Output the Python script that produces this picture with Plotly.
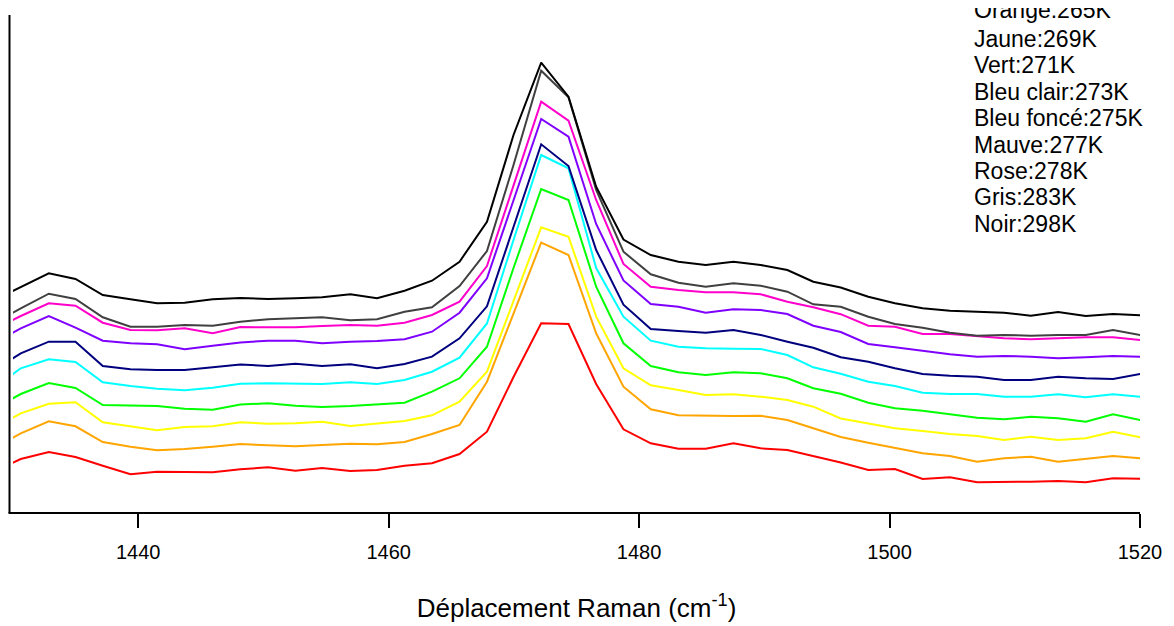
import plotly.graph_objects as go

# Raman shift (cm-1) of each sampled point
raman_shift = [1428.44, 1430.62, 1432.86, 1434.99, 1437.17, 1439.38, 1441.51, 1443.71, 1445.95, 1448.16,
               1450.37, 1452.55, 1454.68, 1456.94, 1459.07, 1461.27, 1463.46, 1465.66, 1467.85, 1469.97,
               1472.18, 1474.36, 1476.57, 1478.75, 1480.93, 1483.14, 1485.32, 1487.53, 1489.71, 1491.84,
               1493.91, 1496.10, 1498.30, 1500.43, 1502.64, 1504.82, 1507.00, 1509.15, 1511.28, 1513.46,
               1515.67, 1517.85, 1520.03]

# Stacked intensities (arbitrary units), one list per temperature
rouge = [41, 54, 61, 56, 47.3, 38.7, 41.3, 40.7, 40.7, 43.8, 45.7, 42.3, 45, 42, 43, 47.3, 49.7, 59, 81.3, 136,
         189.7, 189, 129, 83.7, 69.7, 64.3, 64.3, 69.7, 64.7, 63, 57, 50.5, 43, 44, 34, 35.7, 30.7, 30.7, 31.3, 32,
         30.7, 34.7, 34.3]
orange = [64.3, 79.7, 91.7, 86.7, 71, 66.3, 62.7, 64, 66.3, 69, 67.7, 66.7, 68, 69.3, 68.7, 71, 79, 88, 131.3, 200,
          270.5, 258, 179.7, 126.3, 103.7, 97.7, 97.3, 97, 97.3, 93, 84.7, 76, 70.3, 65.3, 59.7, 57, 51.3, 54.7, 56.3,
          51.3, 54, 57, 54.7]
jaune = [84.3, 99.7, 109.3, 110.7, 90.7, 86.3, 82.7, 86, 86.7, 90.8, 89.3, 89.7, 91.3, 87, 89.7, 92, 97.7, 111.3,
         141.3, 213, 285.7, 276.3, 196.3, 144.7, 127.7, 123, 118, 118.7, 116.3, 113, 106.3, 94.5, 89.7, 84.7, 82, 79,
         77, 73, 76.3, 73, 74.7, 81.3, 75.7]
vert = [104, 119, 130, 125, 108, 107.3, 107, 104.3, 103.3, 108.5, 109.7, 107.3, 106, 107, 108.7, 110.3, 121.3, 134.7,
        166.3, 245, 324, 313, 226.3, 169.7, 147, 140.7, 138, 140.7, 139.7, 134.7, 124.7, 119.2, 110.3, 104.7, 102.3,
        99, 95.3, 93.7, 96.3, 94.7, 91.3, 98.7, 93]
bleu_clair = [124.7, 144.7, 153.7, 151, 130.7, 127, 124.3, 122.7, 125.3, 129.2, 129.7, 129.7, 129, 130.7, 129, 133,
              141.3, 155.3, 189.5, 273, 358, 344.7, 245, 196.3, 172.3, 166.3, 164.7, 164.3, 164, 158, 145.7, 139.3,
              131.3, 127, 120.3, 119, 119, 116.3, 116.3, 118.7, 115.7, 118.7, 116.3]
bleu_fonce = [142.2, 159.7, 171.3, 171.3, 147, 143.7, 143, 143, 145.7, 148.5, 147, 149.3, 147, 148.7, 144.7, 149,
              156.3, 174.7, 206.7, 286.3, 368.7, 347, 263, 208.3, 184, 182, 180.3, 183, 178, 171.3, 165.3, 155.7,
              151.3, 144.7, 139, 137.3, 136.3, 133, 133, 136.3, 134.7, 134, 139]
mauve = [169.3, 184.7, 197, 185.3, 172.3, 169.7, 168.7, 163.7, 167.3, 170.5, 172.3, 172.3, 169.7, 171.3, 172, 173.7,
         181.3, 200.3, 234.7, 313, 394, 376.3, 289, 232.5, 209, 206.3, 200.3, 203.7, 203, 199, 187.3, 181, 169, 165.7,
         162, 158.7, 156.3, 157, 156.3, 154.7, 155.7, 157, 156.3]
rose = [183, 197, 209.7, 207.3, 190.3, 183, 182.7, 184.7, 179.7, 186, 185.7, 185.7, 187, 188, 187.3, 190.3, 198,
        211.3, 247, 328, 411.3, 392.3, 313, 249, 226.3, 223, 220.7, 220.7, 218.7, 211.3, 205.7, 198.8, 187.3, 186.3,
        179, 179, 177, 174.7, 173.7, 174.7, 175.7, 175.7, 173]
gris = [189.3, 204.7, 219.3, 214, 195.7, 186.3, 186.3, 188, 187.3, 191.3, 193.7, 194.7, 195.7, 192.7, 193.7, 201.3,
        205.7, 227, 262, 348, 442.3, 415.7, 323, 261.3, 238.7, 230.3, 226.3, 229.7, 227.3, 221.3, 208.7, 206.3, 196.3,
        189, 185.3, 180.3, 177.3, 178, 177.3, 178, 178, 183, 178]
noir = [212.4, 225.9, 239.7, 234, 218, 213.7, 209.7, 210.3, 213.7, 215, 214, 214.7, 215.7, 218.7, 214.7, 222.3,
        232.3, 251.3, 291.3, 378, 450.3, 416.3, 326.3, 273.5, 258, 251.3, 248, 251.3, 248, 243, 231.3, 225.5, 216.3,
        209.7, 204.7, 202.3, 201.3, 200.3, 197.3, 201, 197, 199, 197.7]

series = [rouge, orange, jaune, vert, bleu_clair, bleu_fonce, mauve, rose, gris, noir]
series_names = ["Rouge", "Orange", "Jaune", "Vert", "Bleu clair", "Bleu foncé", "Mauve", "Rose", "Gris", "Noir"]
colors = ["#ff0000", "#ffa500", "#ffff00", "#00ff00", "#00ffff", "#00007f", "#7f00ff", "#ff00cc", "#404040", "#000000"]

legend_lines = ["Orange:265K", "Jaune:269K", "Vert:271K", "Bleu clair:273K", "Bleu foncé:275K",
                "Mauve:277K", "Rose:278K", "Gris:283K", "Noir:298K"]

fig = go.Figure()
for name, ys, c in zip(series_names, series, colors):
    fig.add_trace(go.Scatter(x=raman_shift, y=ys, mode="lines", name=name,
                             line=dict(color=c, width=2), showlegend=False))

# the page body adds an 8 px offset; figure size chosen to fill the window
OFF = 8
W, H = 1174 - OFF, 626 - OFF
L, R, T, B = 12.5 - OFF, 1174 - 1140, 15 - OFF, 626 - 513
pw, ph = W - L - R, H - T - B


def px(xp):  # page pixel -> paper x
    return (xp - OFF - L) / pw


def py(yp):  # page pixel -> paper y
    return (H - B - (yp - OFF)) / ph


font = "Liberation Sans, Arial, sans-serif"

# legend-like text block (top line cut by the figure edge)
label_y = [9.5, 39, 65.4, 91.8, 118.2, 144.6, 171, 197.4, 223.8]
for t, yy in zip(legend_lines, label_y):
    fig.add_annotation(x=px(971.5), y=py(yy), xref="paper", yref="paper", text=t,
                       showarrow=False, xanchor="left", yanchor="middle",
                       font=dict(family=font, size=23, color="#000000"))

# axis lines (y axis offset slightly left of plot area)
fig.add_shape(type="line", xref="paper", yref="paper", x0=px(9), x1=px(9), y0=0, y1=1,
              line=dict(color="#000000", width=2))
fig.add_shape(type="line", xref="paper", yref="paper", x0=px(8), x1=1, y0=0, y1=0,
              line=dict(color="#000000", width=2))

fig.update_layout(
    width=W, height=H,
    margin=dict(l=L, r=R, t=T, b=B, pad=0, autoexpand=False),
    plot_bgcolor="white", paper_bgcolor="white",
    xaxis=dict(range=[1430, 1520], tickvals=[1440, 1460, 1480, 1500, 1520],
               ticks="outside", ticklen=14, tickwidth=2, tickcolor="#000000",
               ticklabelstandoff=7,
               showgrid=False, zeroline=False, showline=False, automargin=False,
               tickfont=dict(family=font, size=20, color="#000000"),
               title=dict(text="Déplacement Raman (cm<sup>-1</sup>)", standoff=36,
                          font=dict(family=font, size=26, color="#000000"))),
    yaxis=dict(range=[0, 498], showticklabels=False, showgrid=False, zeroline=False,
               showline=False, ticks="", automargin=False),
)

fig.write_html("out.html", config={"displayModeBar": False})
